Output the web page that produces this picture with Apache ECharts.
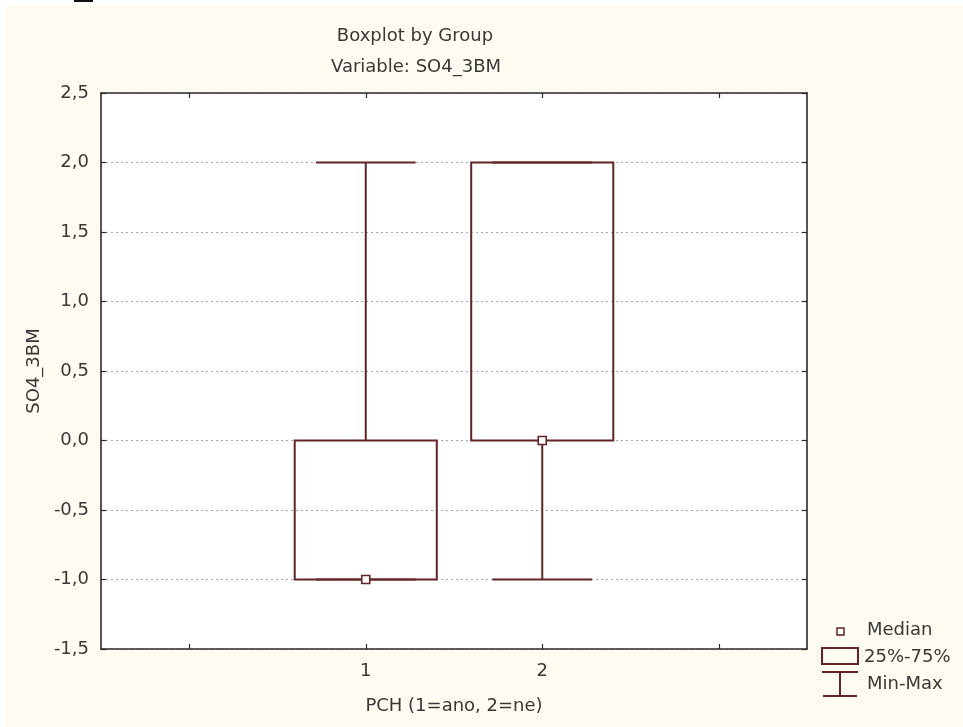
<!DOCTYPE html>
<html><head><meta charset="utf-8">
<script src="https://cdn.jsdelivr.net/npm/echarts@6/dist/echarts.min.js"></script>
<style>html,body{margin:0;padding:0;background:#fff}#c{width:963px;height:727px}</style>
</head><body><div id="c"></div>
<script>
// ---- data ----
const categories = ['0', '1', '2', '3'];
const shownLabels = ['1', '2'];
const groups = ['1', '2'];
const minValues = [-1, -1];
const q1Values = [-1, 0];
const medianValues = [-1, 0];
const q3Values = [0, 2];
const maxValues = [2, 2];
const yMin = -1.5, yMax = 2.5, yStep = 0.5;

const LINE = '#632424';
const TXT = '#383838';
const FONT = 'DejaVu Sans';
const FS = 18;

const boxData = groups.map((g, i) => [categories.indexOf(g), minValues[i], q1Values[i], medianValues[i], q3Values[i], maxValues[i]]);
const medData = groups.map((g, i) => [categories.indexOf(g), medianValues[i]]);

const chart = echarts.init(document.getElementById('c'), null, {renderer: 'canvas'});
const fmt = v => v.toFixed(1).replace('.', ',');
const axisLineStyle = {show: true, onZero: false, lineStyle: {color: '#2b2b2b', width: 1.6}};
const tickStyle = {show: true, inside: true, length: 5, lineStyle: {color: '#2b2b2b', width: 1.2}};
chart.setOption({
  animation: false,
  backgroundColor: '#ffffff',
  textStyle: {fontFamily: FONT},
  graphic: [
    {type: 'rect', z: -100, silent: true, shape: {x: 6, y: 6, width: 957, height: 721}, style: {fill: '#fffbf0'}},
    {type: 'rect', silent: true, shape: {x: 74, y: 0, width: 19, height: 2}, style: {fill: '#111'}},
    {type: 'text', x: 415, y: 36, style: {text: 'Boxplot by Group', fill: TXT, font: FS + 'px ' + FONT, textAlign: 'center', textVerticalAlign: 'middle'}},
    {type: 'text', x: 416, y: 67, style: {text: 'Variable: SO4_3BM', fill: TXT, font: FS + 'px ' + FONT, textAlign: 'center', textVerticalAlign: 'middle'}},
    // legend
    {type: 'rect', shape: {x: 837, y: 628, width: 7, height: 7}, style: {fill: '#fff', stroke: LINE, lineWidth: 1.5}},
    {type: 'text', x: 867, y: 630, style: {text: 'Median', fill: TXT, font: FS + 'px ' + FONT, textVerticalAlign: 'middle'}},
    {type: 'rect', shape: {x: 822, y: 648, width: 36, height: 16}, style: {fill: 'none', stroke: LINE, lineWidth: 2}},
    {type: 'text', x: 864, y: 657, style: {text: '25%-75%', fill: TXT, font: FS + 'px ' + FONT, textVerticalAlign: 'middle'}},
    {type: 'line', shape: {x1: 822, y1: 672, x2: 858, y2: 672}, style: {stroke: LINE, lineWidth: 2}},
    {type: 'line', shape: {x1: 840, y1: 672, x2: 840, y2: 696}, style: {stroke: LINE, lineWidth: 2}},
    {type: 'line', shape: {x1: 823, y1: 696, x2: 857, y2: 696}, style: {stroke: LINE, lineWidth: 2}},
    {type: 'text', x: 867, y: 684, style: {text: 'Min-Max', fill: TXT, font: FS + 'px ' + FONT, textVerticalAlign: 'middle'}}
  ],
  grid: {left: 101, top: 93, right: 156, bottom: 78, show: true, backgroundColor: '#ffffff', borderWidth: 0},
  xAxis: [
    {
      type: 'category', data: categories, position: 'bottom', boundaryGap: true,
      axisLine: axisLineStyle,
      axisTick: Object.assign({alignWithLabel: true, interval: 0}, tickStyle),
      axisLabel: {interval: 0, margin: 13, color: TXT, fontSize: FS, fontFamily: FONT, formatter: v => shownLabels.includes(v) ? v : ''},
      name: 'PCH (1=ano, 2=ne)', nameLocation: 'middle', nameGap: 48,
      nameTextStyle: {color: TXT, fontSize: FS, fontFamily: FONT},
      splitLine: {show: false}
    },
    {
      type: 'category', data: categories, position: 'top', boundaryGap: true,
      axisLine: axisLineStyle,
      axisTick: Object.assign({alignWithLabel: true, interval: 0}, tickStyle),
      axisLabel: {show: false}, splitLine: {show: false}
    }
  ],
  yAxis: [
    {
      type: 'value', min: yMin, max: yMax, interval: yStep, position: 'left',
      axisLine: axisLineStyle, axisTick: tickStyle,
      axisLabel: {margin: 12, color: TXT, fontSize: FS, fontFamily: FONT, formatter: fmt},
      name: 'SO4_3BM', nameLocation: 'middle', nameGap: 58, nameRotate: 90,
      nameTextStyle: {color: TXT, fontSize: FS, fontFamily: FONT},
      splitLine: {show: true, lineStyle: {type: [2, 3], color: '#a8a8a8', width: 1}}
    },
    {
      type: 'value', min: yMin, max: yMax, interval: yStep, position: 'right',
      axisLine: axisLineStyle, axisTick: tickStyle,
      axisLabel: {show: false}, splitLine: {show: false}
    }
  ],
  series: [
    {
      name: '25%-75%', type: 'custom', xAxisIndex: 0, yAxisIndex: 0, z: 3,
      data: boxData,
      renderItem: function (params, api) {
        const x = api.value(0);
        const pMin = api.coord([x, api.value(1)]);
        const pQ1 = api.coord([x, api.value(2)]);
        const pQ3 = api.coord([x, api.value(4)]);
        const pMax = api.coord([x, api.value(5)]);
        const band = api.size([1, 0])[0];
        const bw = band * 0.805, cw = band * 0.565;
        const cx = pMin[0];
        const st = {stroke: LINE, lineWidth: 2, fill: null};
        return {
          type: 'group',
          children: [
            {type: 'line', shape: {x1: cx, y1: pMax[1], x2: cx, y2: pQ3[1]}, style: st},
            {type: 'line', shape: {x1: cx, y1: pQ1[1], x2: cx, y2: pMin[1]}, style: st},
            {type: 'line', shape: {x1: cx - cw / 2, y1: pMax[1], x2: cx + cw / 2, y2: pMax[1]}, style: st},
            {type: 'line', shape: {x1: cx - cw / 2, y1: pMin[1], x2: cx + cw / 2, y2: pMin[1]}, style: st},
            {type: 'rect', shape: {x: cx - bw / 2, y: pQ3[1], width: bw, height: pQ1[1] - pQ3[1]}, style: {stroke: LINE, lineWidth: 2, fill: 'none'}}
          ]
        };
      }
    },
    {
      name: 'Median', type: 'scatter', xAxisIndex: 0, yAxisIndex: 0, z: 5,
      symbol: 'rect', symbolSize: 8,
      itemStyle: {color: '#ffffff', borderColor: LINE, borderWidth: 1.6, opacity: 1},
      data: medData
    }
  ]
});
</script></body></html>
